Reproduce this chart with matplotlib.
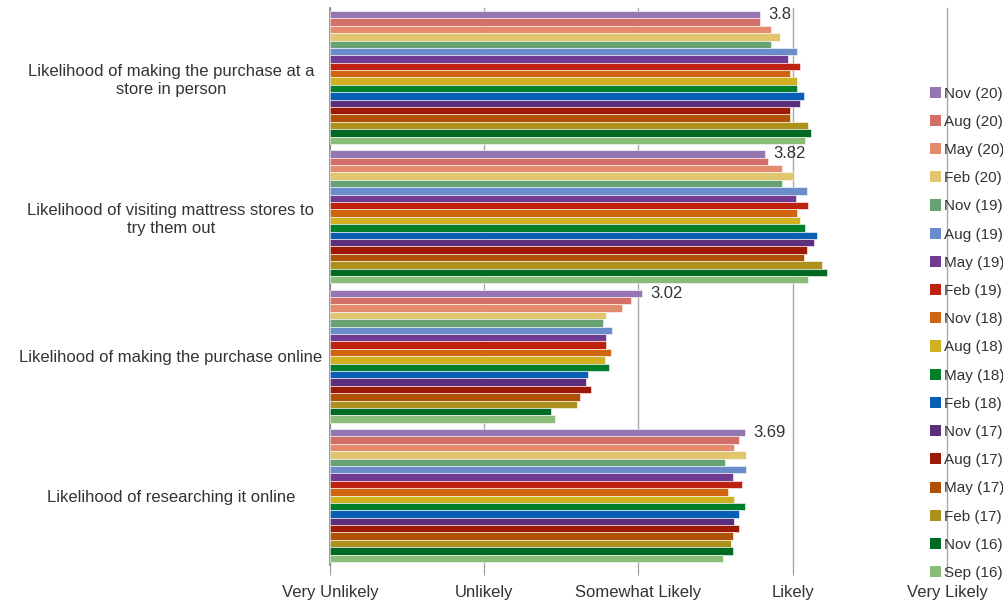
import numpy as np
import matplotlib.pyplot as plt
from matplotlib.patches import Patch

plt.rcParams['font.family'] = ['Liberation Sans', 'DejaVu Sans']

# categories (top to bottom)
categories = [
    "Likelihood of making the purchase at a\nstore in person",
    "Likelihood of visiting mattress stores to\ntry them out",
    "Likelihood of making the purchase online",
    "Likelihood of researching it online",
]

# survey waves (top bar to bottom bar within each group)
waves = ["Nov (20)", "Aug (20)", "May (20)", "Feb (20)", "Nov (19)", "Aug (19)",
         "May (19)", "Feb (19)", "Nov (18)", "Aug (18)", "May (18)", "Feb (18)",
         "Nov (17)", "Aug (17)", "May (17)", "Feb (17)", "Nov (16)", "Sep (16)"]

colors = ["#9676B2", "#D46E68", "#E38B6C", "#E1C66F", "#67A372", "#6A8CCA",
          "#6F3C92", "#BD2210", "#D0640F", "#D1B022", "#007E2A", "#065FB4",
          "#5C2F7C", "#9D1905", "#AF5107", "#AD911C", "#006A22", "#8ABD78"]

store_in_person = [3.79, 3.79, 3.86, 3.92, 3.86, 4.03, 3.97, 4.05, 3.98,
                   4.03, 4.03, 4.07, 4.05, 3.98, 3.98, 4.10, 4.12, 4.08]
visit_stores = [3.82, 3.84, 3.93, 4.01, 3.93, 4.09, 4.02, 4.10, 4.03,
                4.05, 4.08, 4.16, 4.14, 4.09, 4.07, 4.19, 4.22, 4.10]
purchase_online = [3.02, 2.95, 2.89, 2.79, 2.77, 2.83, 2.79, 2.79, 2.82,
                   2.78, 2.81, 2.67, 2.66, 2.69, 2.62, 2.60, 2.43, 2.46]
research_online = [3.69, 3.65, 3.62, 3.70, 3.56, 3.70, 3.61, 3.67, 3.58,
                   3.62, 3.69, 3.65, 3.62, 3.65, 3.61, 3.60, 3.61, 3.55]

labels_shown = ["3.8", "3.82", "3.02", "3.69"]

x_ticks = [1, 2, 3, 4, 5]
x_labels = ["Very Unlikely", "Unlikely", "Somewhat Likely", "Likely", "Very Likely"]

data = np.array([store_in_person, visit_stores, purchase_online, research_online])

fig = plt.figure(figsize=(10.04, 6), dpi=100)
ax = fig.add_axes([0.3287, 0.058, 0.6145, 0.929])

n = len(waves)
group_w = 0.955
h = group_w / n
cat_pos = np.arange(len(categories))

for j in range(n):
    y = cat_pos - group_w / 2 + (j + 0.5) * h
    ax.barh(y, data[:, j] - 1, left=1, height=h, color=colors[j],
            edgecolor="white", linewidth=0.4, zorder=3)

for i, lab in enumerate(labels_shown):
    y0 = cat_pos[i] - group_w / 2 + 0.5 * h
    ax.annotate(lab, (data[i, 0], y0), xytext=(6, 0), textcoords="offset points",
                va="center", ha="left", fontsize=12, color="#333333", zorder=4)

ax.set_xlim(1, 5)
ax.set_ylim(len(categories) - 0.5, -0.5)
ax.set_xticks(x_ticks)
ax.set_xticklabels(x_labels, fontsize=12, color="#333333")
ax.set_yticks(cat_pos)
ax.set_yticklabels(categories, fontsize=12, color="#333333", ha="center",
                   multialignment="center", linespacing=1.25)
ax.tick_params(axis="y", length=0, pad=114.5)
ax.tick_params(axis="x", length=7, color="#999999", pad=7)

ax.grid(axis="x", color="#aaaaaa", linewidth=1, zorder=0)
for gl in ax.get_xgridlines():
    gl.set_clip_on(False)
for s in ["top", "right", "bottom"]:
    ax.spines[s].set_visible(False)
ax.spines["left"].set_color("#888888")
ax.spines["left"].set_linewidth(1.2)

handles = [Patch(facecolor=c, edgecolor="none") for c in colors]
fig.legend(handles, waves, loc="upper left", bbox_to_anchor=(0.920, 0.866),
           frameon=False, fontsize=11, handlelength=0.75, handleheight=0.75,
           handletextpad=0.15, labelspacing=0.93, borderaxespad=0,
           labelcolor="#333333")

fig.savefig("out.png", dpi=100)
